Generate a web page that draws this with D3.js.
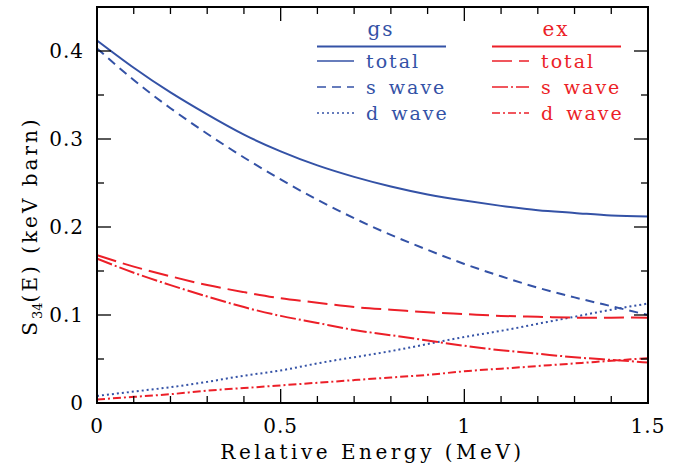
<!DOCTYPE html>
<html>
<head>
<meta charset="utf-8">
<script src="https://cdn.jsdelivr.net/npm/d3@7"></script>
<style>
  body { margin: 0; background: #fff; }
  text { font-family: "DejaVu Serif", serif; }
</style>
</head>
<body>
<svg id="chart" width="685" height="468"></svg>
<script>
// Energy grid (MeV)
const energy = [0, 0.1, 0.2, 0.3, 0.4, 0.5, 0.6, 0.7, 0.8, 0.9, 1.0, 1.1, 1.2, 1.3, 1.4, 1.5];

// ground state (gs) S-factor, keV barn
const gsTotal = [0.412, 0.381, 0.353, 0.328, 0.305, 0.286, 0.270, 0.257, 0.246, 0.237, 0.230, 0.224, 0.219, 0.216, 0.213, 0.212];
const gsS     = [0.403, 0.367, 0.335, 0.306, 0.279, 0.254, 0.231, 0.210, 0.191, 0.174, 0.158, 0.144, 0.131, 0.120, 0.110, 0.100];
const gsD     = [0.008, 0.013, 0.018, 0.024, 0.031, 0.037, 0.045, 0.052, 0.059, 0.067, 0.075, 0.082, 0.090, 0.098, 0.106, 0.113];

// excited state (ex)
const exTotal = [0.168, 0.155, 0.144, 0.134, 0.126, 0.119, 0.114, 0.109, 0.106, 0.103, 0.101, 0.099, 0.098, 0.097, 0.097, 0.097];
const exS     = [0.164, 0.148, 0.134, 0.121, 0.109, 0.099, 0.091, 0.083, 0.077, 0.071, 0.065, 0.060, 0.056, 0.052, 0.049, 0.046];
const exD     = [0.004, 0.007, 0.010, 0.014, 0.017, 0.020, 0.023, 0.026, 0.029, 0.032, 0.036, 0.039, 0.042, 0.045, 0.048, 0.051];

const xTicks = [0, 0.5, 1, 1.5];
const yTicks = [0, 0.1, 0.2, 0.3, 0.4];

const blue = "#3452a6";
const red = "#ec1f28";

const svg = d3.select("#chart");
const margin = { top: 7, right: 37, bottom: 65, left: 97 };
const width = 685 - margin.left - margin.right;
const height = 468 - margin.top - margin.bottom;

const x = d3.scaleLinear().domain([0, 1.5]).range([margin.left, margin.left + width]);
const y = d3.scaleLinear().domain([0, 0.45]).range([margin.top + height, margin.top]);

const series = [
  { vals: gsTotal, color: blue, dash: null },
  { vals: gsS, color: blue, dash: "9,6" },
  { vals: gsD, color: blue, dash: "2,3" },
  { vals: exTotal, color: red, dash: "20,7" },
  { vals: exS, color: red, dash: "16,3,2,3" },
  { vals: exD, color: red, dash: "8,3,2,3" }
];

const line = d3.line()
  .x((d, i) => x(energy[i]))
  .y(d => y(d))
  .curve(d3.curveNatural);

svg.append("clipPath").attr("id", "clip")
  .append("rect")
  .attr("x", margin.left).attr("y", margin.top)
  .attr("width", width).attr("height", height);

svg.append("g").attr("clip-path", "url(#clip)")
  .selectAll("path")
  .data(series)
  .enter()
  .append("path")
  .attr("d", d => line(d.vals))
  .attr("fill", "none")
  .attr("stroke", d => d.color)
  .attr("stroke-width", 2)
  .attr("stroke-dasharray", d => d.dash);

// ticks on all four sides, pointing inward
const axes = svg.append("g");
const xMinor = d3.range(0, 1.5001, 0.1);
const yMinor = d3.range(0, 0.4501, 0.05);
const isMajor = (v, step) => Math.abs(v / step - Math.round(v / step)) < 1e-6;

xMinor.forEach(v => {
  const len = isMajor(v, 0.5) ? 14 : 7;
  axes.append("line").attr("x1", x(v)).attr("x2", x(v))
    .attr("y1", y(0)).attr("y2", y(0) - len);
  axes.append("line").attr("x1", x(v)).attr("x2", x(v))
    .attr("y1", y(0.45)).attr("y2", y(0.45) + len);
});
yMinor.forEach(v => {
  const len = isMajor(v, 0.1) ? 14 : 7;
  axes.append("line").attr("y1", y(v)).attr("y2", y(v))
    .attr("x1", x(0)).attr("x2", x(0) + len);
  axes.append("line").attr("y1", y(v)).attr("y2", y(v))
    .attr("x1", x(1.5)).attr("x2", x(1.5) - len);
});
axes.selectAll("line").attr("stroke", "#000").attr("stroke-width", 1.3);

svg.append("rect")
  .attr("x", margin.left).attr("y", margin.top)
  .attr("width", width).attr("height", height)
  .attr("fill", "none").attr("stroke", "#000").attr("stroke-width", 2);

// tick labels
svg.selectAll(".xl").data(xTicks).enter().append("text")
  .attr("x", d => x(d)).attr("y", 433)
  .attr("text-anchor", "middle")
  .style("font-size", "20px").style("letter-spacing", "1px")
  .text(d => d);

svg.selectAll(".yl").data(yTicks).enter().append("text")
  .attr("x", 84).attr("y", d => y(d) + 7)
  .attr("text-anchor", "end")
  .style("font-size", "20px").style("letter-spacing", "1px")
  .text(d => d);

// axis titles
svg.append("text")
  .attr("x", x(0.75)).attr("y", 459)
  .attr("text-anchor", "middle")
  .style("font-size", "20px").style("letter-spacing", "3.5px")
  .text("Relative Energy (MeV)");

const yTitle = svg.append("text")
  .attr("transform", "translate(37,226) rotate(-90)")
  .attr("text-anchor", "middle")
  .style("font-size", "20px").style("letter-spacing", "3px");
yTitle.append("tspan").text("S");
yTitle.append("tspan").attr("dy", 5).style("font-size", "13px").style("letter-spacing", "0px").text("34");
yTitle.append("tspan").attr("dy", -5).text("(E) (keV barn)");

// legend
const legendCols = [
  { title: "gs", color: blue, x0: 317, items: series.slice(0, 3) },
  { title: "ex", color: red, x0: 492, items: series.slice(3, 6) }
];
const names = ["total", "s wave", "d wave"];

legendCols.forEach(col => {
  const g = svg.append("g");
  g.append("text")
    .attr("x", col.x0 + 64).attr("y", 36)
    .attr("text-anchor", "middle")
    .attr("fill", col.color)
    .style("font-size", "20px").style("letter-spacing", "2px")
    .text(col.title);
  g.append("line")
    .attr("x1", col.x0).attr("x2", col.x0 + 129)
    .attr("y1", 46.5).attr("y2", 46.5)
    .attr("stroke", col.color).attr("stroke-width", 2);
  col.items.forEach((s, i) => {
    const yy = 61 + i * 26;
    g.append("line")
      .attr("x1", col.x0).attr("x2", col.x0 + 37)
      .attr("y1", yy).attr("y2", yy)
      .attr("stroke", s.color).attr("stroke-width", 1.5)
      .attr("stroke-dasharray", s.dash);
    g.append("text")
      .attr("x", col.x0 + 49).attr("y", yy + 7)
      .attr("fill", s.color)
      .style("font-size", "19px").style("letter-spacing", "2px")
      .style("word-spacing", "3px")
      .text(names[i]);
  });
});
</script>
</body>
</html>
